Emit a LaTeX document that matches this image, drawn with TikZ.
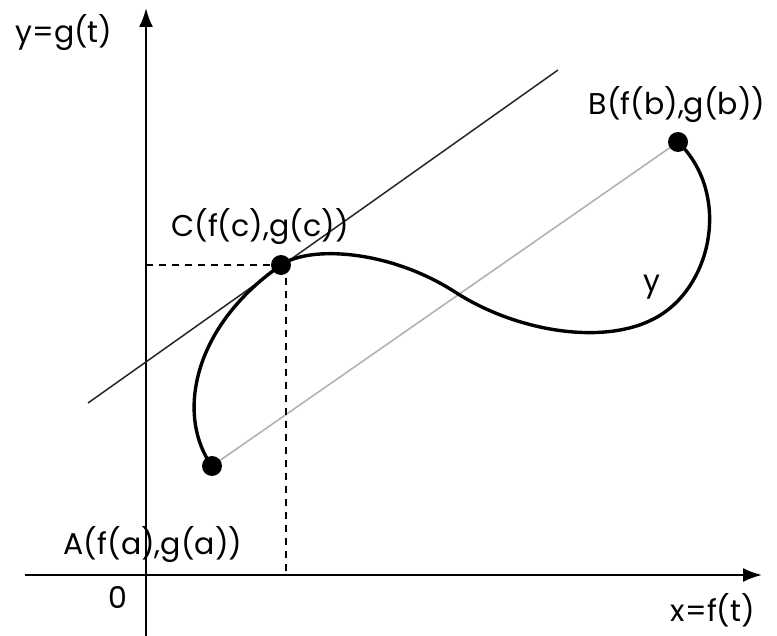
\documentclass[tikz,border=0pt]{standalone}
\usepackage{fontspec}
\setmainfont{Poppins}
\usetikzlibrary{arrows.meta}
\begin{document}
\begin{tikzpicture}[x=1pt,y=-1pt,
  lbl/.style={font=\fontsize{30}{34}\selectfont, inner sep=0pt},
  axis/.style={line width=2.2pt, -{Latex[length=19pt,width=14pt]}},
  dot/.style={circle, fill=black, inner sep=0pt, minimum size=20pt},
  guide/.style={line width=1.7pt, dash pattern=on 7pt off 6pt}]
\useasboundingbox (0,0) rectangle (777,636);
% axes
\coordinate (xs) at (25,575);
\coordinate (xe) at (762,575);
\coordinate (ys) at (146,636);
\coordinate (ye) at (146,8);
\draw[axis] (xs) -- (xe);
\draw[axis] (ys) -- (ye);
% points
\coordinate (A) at (212,466);
\coordinate (B) at (678,142);
\coordinate (C) at (281,265);
% tangent line
\coordinate (t1) at (88,403);
\coordinate (t2) at (558,70);
\draw[line width=1.5pt, black!85] (t1) -- (t2);
% chord
\draw[line width=1.6pt, black!30] (A) -- (B);
% dashed guides
\coordinate (cy) at (146,265);
\coordinate (cxt) at (286,265);
\coordinate (cxb) at (286,575);
\draw[guide] (cy) -- (C);
\draw[guide] (cxt) -- (cxb);
% curve
\draw[line width=3.4pt, line cap=round]
  (A) .. controls (178,420) and (188,330) .. (C)
      .. controls (310,245) and (390,250) .. (455,292)
      .. controls (520,334) and (615,348) .. (665,312)
      .. controls (715,276) and (728,190) .. (B);
\node[dot] (nA) at (A) {};
\node[dot] (nB) at (B) {};
\node[dot] (nC) at (C) {};
% labels
\node[lbl] (ly) at (64,33) {y=g(t)};
\node[lbl] (lx) at (713,610) {x=f(t)};
\node[lbl] (lB) at (677,105) {B(f(b),g(b))};
\node[lbl] (lC) at (260,227) {C(f(c),g(c))};
\node[lbl] (lA) at (153,545) {A(f(a),g(a))};
\node[lbl] (lcurve) at (652,287) {y};
\node[lbl] (l0) at (118,597) {0};
\end{tikzpicture}
\end{document}
